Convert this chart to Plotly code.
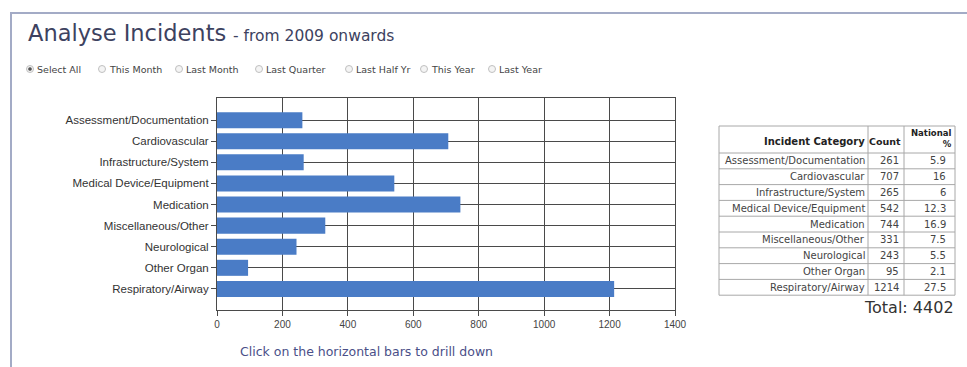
import plotly.graph_objects as go

# Incident categories and counts
categories = [
    "Assessment/Documentation",
    "Cardiovascular",
    "Infrastructure/System",
    "Medical Device/Equipment",
    "Medication",
    "Miscellaneous/Other",
    "Neurological",
    "Other Organ",
    "Respiratory/Airway",
]
counts = [261, 707, 265, 542, 744, 331, 243, 95, 1214]
national_pct = ["5.9", "16", "6", "12.3", "16.9", "7.5", "5.5", "2.1", "27.5"]
total_count = 4402

x_ticks = [0, 200, 400, 600, 800, 1000, 1200, 1400]
period_options = ["Select All", "This Month", "Last Month", "Last Quarter",
                  "Last Half Yr", "This Year", "Last Year"]
table_headers = ["Incident Category", "Count", "National<br>%"]

W, H = 967, 367


def px(x):
    return x / W


def py(y):
    return 1 - y / H


fig = go.Figure()

fig.add_trace(go.Bar(
    y=categories,
    x=counts,
    orientation="h",
    marker=dict(color="#4a7cc6", line=dict(width=0)),
    width=0.76,
    hoverinfo="x+y",
    showlegend=False,
))

annotations = [
    dict(x=px(26), y=py(33), xref="paper", yref="paper", xanchor="left", yanchor="middle",
         text="Analyse Incidents", showarrow=False,
         font=dict(family="DejaVu Sans", size=22.5, color="#3d4260")),
    dict(x=px(231), y=py(36), xref="paper", yref="paper", xanchor="left", yanchor="middle",
         text="- from 2009 onwards", showarrow=False,
         font=dict(family="DejaVu Sans", size=15.5, color="#3d4260")),
    dict(x=px(956), y=py(307), xref="paper", yref="paper", xanchor="right", yanchor="middle",
         text="Total: " + str(total_count), showarrow=False,
         font=dict(family="DejaVu Sans", size=16, color="#333")),
    dict(x=px(238), y=py(351), xref="paper", yref="paper", xanchor="left", yanchor="middle",
         text="Click on the horizontal bars to drill down", showarrow=False,
         font=dict(family="DejaVu Sans", size=12.5, color="#4a4f88")),
]

shapes = [
    # outer panel frame
    dict(type="rect", xref="paper", yref="paper", x0=px(11), x1=px(1000), y0=py(400), y1=py(13),
         line=dict(color="#a3abc6", width=2), layer="below"),
]

# period selector radio buttons
radio_x = [30, 102, 179, 259, 349, 424, 492]
for i, (label, rx) in enumerate(zip(period_options, radio_x)):
    shapes.append(dict(type="circle", xref="paper", yref="paper",
                       x0=px(rx - 3.5), x1=px(rx + 3.5), y0=py(69 + 3.5), y1=py(69 - 3.5),
                       line=dict(color="#c0c0c0", width=1), fillcolor="#f4f4f4"))
    if i == 0:
        shapes.append(dict(type="circle", xref="paper", yref="paper",
                           x0=px(rx - 1.6), x1=px(rx + 1.6), y0=py(69 + 1.6), y1=py(69 - 1.6),
                           line=dict(color="#555", width=0.5), fillcolor="#555"))
    annotations.append(dict(x=px(rx + 5), y=py(69), xref="paper", yref="paper",
                            xanchor="left", yanchor="middle", text=label, showarrow=False,
                            font=dict(family="DejaVu Sans", size=9.5, color="#444")))

# summary table drawn as a grid of cells
col_edges = [719, 868, 904, 955]
header_top, header_bottom = 126, 153
row_h = 15.8
grid_color = "#a8a8a8"
n_rows = len(categories)
table_bottom = header_bottom + n_rows * row_h

shapes.append(dict(type="rect", xref="paper", yref="paper",
                   x0=px(col_edges[0]), x1=px(col_edges[-1]),
                   y0=py(table_bottom), y1=py(header_top),
                   line=dict(color=grid_color, width=1), fillcolor="white"))
for xe in col_edges[1:-1]:
    shapes.append(dict(type="line", xref="paper", yref="paper",
                       x0=px(xe), x1=px(xe), y0=py(table_bottom), y1=py(header_top),
                       line=dict(color=grid_color, width=1)))
for r in range(n_rows):
    yl = header_bottom + r * row_h
    shapes.append(dict(type="line", xref="paper", yref="paper",
                       x0=px(col_edges[0]), x1=px(col_edges[-1]), y0=py(yl), y1=py(yl),
                       line=dict(color=grid_color, width=1)))

header_sizes = [10, 9.5, 8.5]
header_y = [141, 141, 139]
for c, head in enumerate(table_headers):
    annotations.append(dict(x=px(col_edges[c + 1] - 1), y=py(header_y[c]), xref="paper", yref="paper",
                            xanchor="right", yanchor="middle", align="right",
                            text="<b>" + head + "</b>", showarrow=False,
                            font=dict(family="DejaVu Sans", size=header_sizes[c], color="#222")))

for r in range(n_rows):
    yc = header_bottom + (r + 0.5) * row_h
    row_vals = [categories[r], str(counts[r]), national_pct[r]]
    for c, val in enumerate(row_vals):
        pad = 1 if c == 0 else 3
        if c == 2:
            pad = 7
        annotations.append(dict(x=px(col_edges[c + 1] - pad), y=py(yc), xref="paper", yref="paper",
                                xanchor="right", yanchor="middle", text=val, showarrow=False,
                                font=dict(family="DejaVu Sans", size=10, color="#444")))

fig.update_layout(
    width=W, height=H,
    autosize=False,
    margin=dict(l=0, r=0, t=0, b=0),
    paper_bgcolor="white",
    plot_bgcolor="white",
    xaxis=dict(
        domain=[px(217), px(675)],
        range=[0, 1400],
        tickvals=x_ticks,
        automargin=False,
        showgrid=True, gridcolor="#4a4a4a", gridwidth=1,
        showline=True, linecolor="#4a4a4a", linewidth=1, mirror=True,
        ticks="outside", ticklen=5, tickcolor="#4a4a4a",
        tickfont=dict(family="Liberation Sans", size=10, color="#444"),
        zeroline=False, fixedrange=True,
    ),
    yaxis=dict(
        domain=[py(310), py(98)],
        categoryorder="array", categoryarray=categories,
        range=[9.0, -1.05],
        automargin=False,
        showgrid=True, gridcolor="#4a4a4a", gridwidth=1,
        showline=True, linecolor="#4a4a4a", linewidth=1, mirror=True,
        ticks="outside", ticklen=5, tickcolor="#4a4a4a",
        tickfont=dict(family="Liberation Sans", size=11.5, color="#333"),
        fixedrange=True,
    ),
    annotations=annotations,
    shapes=shapes,
    font=dict(family="DejaVu Sans"),
)

fig.write_html("out.html", config={"displayModeBar": False, "responsive": False})
